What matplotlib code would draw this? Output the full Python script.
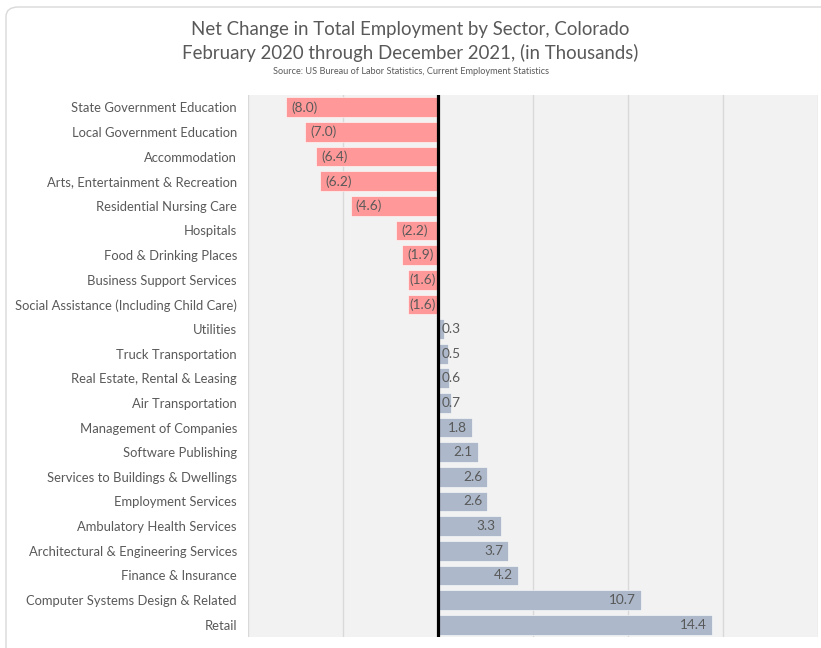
import matplotlib
matplotlib.use("Agg")
import matplotlib.pyplot as plt
from matplotlib.patches import FancyBboxPatch

sectors = [
    "State Government Education", "Local Government Education", "Accommodation",
    "Arts, Entertainment & Recreation", "Residential Nursing Care", "Hospitals",
    "Food & Drinking Places", "Business Support Services",
    "Social Assistance (Including Child Care)", "Utilities", "Truck Transportation",
    "Real Estate, Rental & Leasing", "Air Transportation", "Management of Companies",
    "Software Publishing", "Services to Buildings & Dwellings", "Employment Services",
    "Ambulatory Health Services", "Architectural & Engineering Services",
    "Finance & Insurance", "Computer Systems Design & Related", "Retail",
]
changes = [-8.0, -7.0, -6.4, -6.2, -4.6, -2.2, -1.9, -1.6, -1.6, 0.3, 0.5, 0.6, 0.7,
           1.8, 2.1, 2.6, 2.6, 3.3, 3.7, 4.2, 10.7, 14.4]

FONT = ["Lato", "DejaVu Sans"]
plt.rcParams['font.family'] = FONT
TXT = "#595959"

fig = plt.figure(figsize=(8.21, 6.48), dpi=100)
fig.patch.set_facecolor("white")
border = FancyBboxPatch((6/821, -20/648), 900/821, (648-7+20)/648,
                        boxstyle="round,pad=0,rounding_size=0.015",
                        transform=fig.transFigure, facecolor="white",
                        edgecolor="#d9d9d9", linewidth=1.0, zorder=-10)
fig.patches.append(border)

ax = fig.add_axes([248/821, 1-637/648, (818-248)/821, (637-95)/648])
ax.set_facecolor("#f2f2f2")
n = len(sectors)
ys = list(range(n))
colors = ["#ff9999" if v < 0 else "#adb9ca" for v in changes]
ax.barh(ys, changes, height=0.8, color=colors, edgecolor="white", linewidth=0.4, zorder=2)
ax.set_xlim(-10, 20)
ax.set_ylim(n - 0.5, -0.5)
ax.set_xticks([-10, -5, 0, 5, 10, 15, 20])
ax.grid(axis="x", color="#d9d9d9", linewidth=1.0, zorder=0)
ax.set_axisbelow(True)
ax.tick_params(axis="x", bottom=False, labelbottom=False)
ax.tick_params(axis="y", left=False, length=0, labelsize=9.4, labelcolor=TXT, pad=8)
ax.set_yticks(ys)
ax.set_yticklabels(sectors)
for s in ax.spines.values():
    s.set_visible(False)
ax.axvline(0, color="black", linewidth=2.3, zorder=3)

fig.canvas.draw()
r = fig.canvas.get_renderer()
inv = ax.transData.inverted()
pad_px = 5
for y, v in zip(ys, changes):
    label = f"({abs(v):.1f})" if v < 0 else f"{v:.1f}"
    t = ax.text(0, y, label, fontsize=9.8, color=TXT, va="center", ha="left", zorder=4)
    bb = t.get_window_extent(renderer=r)
    w_data = inv.transform((bb.width, 0))[0] - inv.transform((0, 0))[0]
    pad = inv.transform((pad_px, 0))[0] - inv.transform((0, 0))[0]
    p2 = inv.transform((2, 0))[0] - inv.transform((0, 0))[0]
    if v < 0:
        x = v + pad
        if x + w_data > -p2:
            x = -p2 - w_data
    else:
        x = v - pad - w_data
        if x < p2 * 2:
            x = p2 * 2
    t.set_x(x)

fig.text(0.5, 1-30/648, "Net Change in Total Employment by Sector, Colorado",
         ha="center", va="center", fontsize=13.4, color=TXT)
fig.text(0.5, 1-53/648, "February 2020 through December 2021, (in Thousands)",
         ha="center", va="center", fontsize=13.4, color=TXT)
fig.text(0.5, 1-72/648, "Source: US Bureau of Labor Statistics, Current Employment Statistics",
         ha="center", va="center", fontsize=6.6, color=TXT)

fig.savefig("out.png", dpi=100)
